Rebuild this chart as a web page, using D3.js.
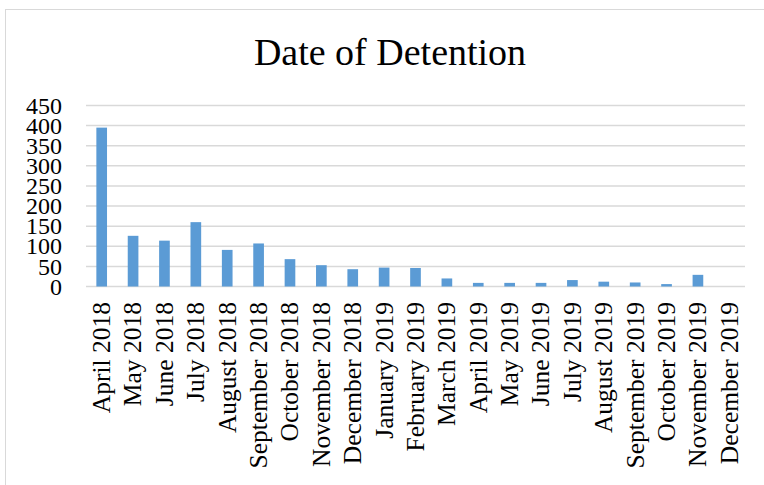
<html>
  <head>
    <meta charset="utf-8">
    <script src="https://d3js.org/d3.v7.min.js"></script>
    <style>
      body { margin: 0; background: #fff; }
      text { font-family: "Liberation Serif", "DejaVu Serif", serif; fill: #000; }
    </style>
  </head>
  <body>
    <svg id="chart" width="764" height="485"></svg>
    <script>
      // detentions per month
      var months = ["April 2018", "May 2018", "June 2018", "July 2018", "August 2018",
        "September 2018", "October 2018", "November 2018", "December 2018", "January 2019",
        "February 2019", "March 2019", "April 2019", "May 2019", "June 2019", "July 2019",
        "August 2019", "September 2019", "October 2019", "November 2019", "December 2019"];
      var counts = [395, 126, 114, 160, 91, 107, 68, 53, 43, 47, 46, 20, 9, 9, 9, 16, 12, 10, 6, 29, 0];
      var yTicks = [0, 50, 100, 150, 200, 250, 300, 350, 400, 450];

      var svg = d3.select("#chart");

      // chart frame
      svg.append("rect")
        .attr("x", 5.5).attr("y", 9.5)
        .attr("width", 800).attr("height", 500)
        .attr("fill", "none").attr("stroke", "#d9d9d9");

      var x = d3.scaleBand()
        .domain(months)
        .range([86, 745])
        .paddingInner(0.66)
        .paddingOuter(0.33);

      var y = d3.scaleLinear()
        .domain([0, 450])
        .range([286.5, 105.5]);

      // title
      svg.append("text")
        .attr("x", 390).attr("y", 65)
        .attr("text-anchor", "middle")
        .style("font-size", "38px")
        .text("Date of Detention");

      // gridlines
      svg.append("g").selectAll("line")
        .data(yTicks)
        .enter().append("line")
        .attr("x1", 86).attr("x2", 745)
        .attr("y1", function(d) { return y(d); })
        .attr("y2", function(d) { return y(d); })
        .attr("stroke", "#d9d9d9")
        .attr("stroke-width", 1.5);

      // y axis labels
      var yAxis = d3.axisLeft(y).tickValues(yTicks).tickSize(0).tickPadding(0);
      var gy = svg.append("g")
        .attr("transform", "translate(62,0)")
        .call(yAxis);
      gy.select(".domain").remove();
      gy.selectAll("text")
        .style("font-family", '"Liberation Serif", "DejaVu Serif", serif')
        .style("font-size", "24px")
        .attr("fill", "#000");

      // bars
      svg.append("g").selectAll("rect")
        .data(counts)
        .enter().append("rect")
        .attr("x", function(d, i) { return x(months[i]); })
        .attr("width", x.bandwidth())
        .attr("y", function(d) { return y(d); })
        .attr("height", function(d) { return y(0) - y(d); })
        .attr("fill", "#5b9bd5");

      // x axis labels, rotated
      svg.append("g").selectAll("text")
        .data(months)
        .enter().append("text")
        .attr("transform", function(d) {
          return "translate(" + (x(d) + x.bandwidth() / 2) + ",302) rotate(-90)";
        })
        .attr("text-anchor", "end")
        .attr("dy", "0.33em")
        .style("font-size", "25.5px")
        .text(function(d) { return d; });
    </script>
  </body>
</html>
